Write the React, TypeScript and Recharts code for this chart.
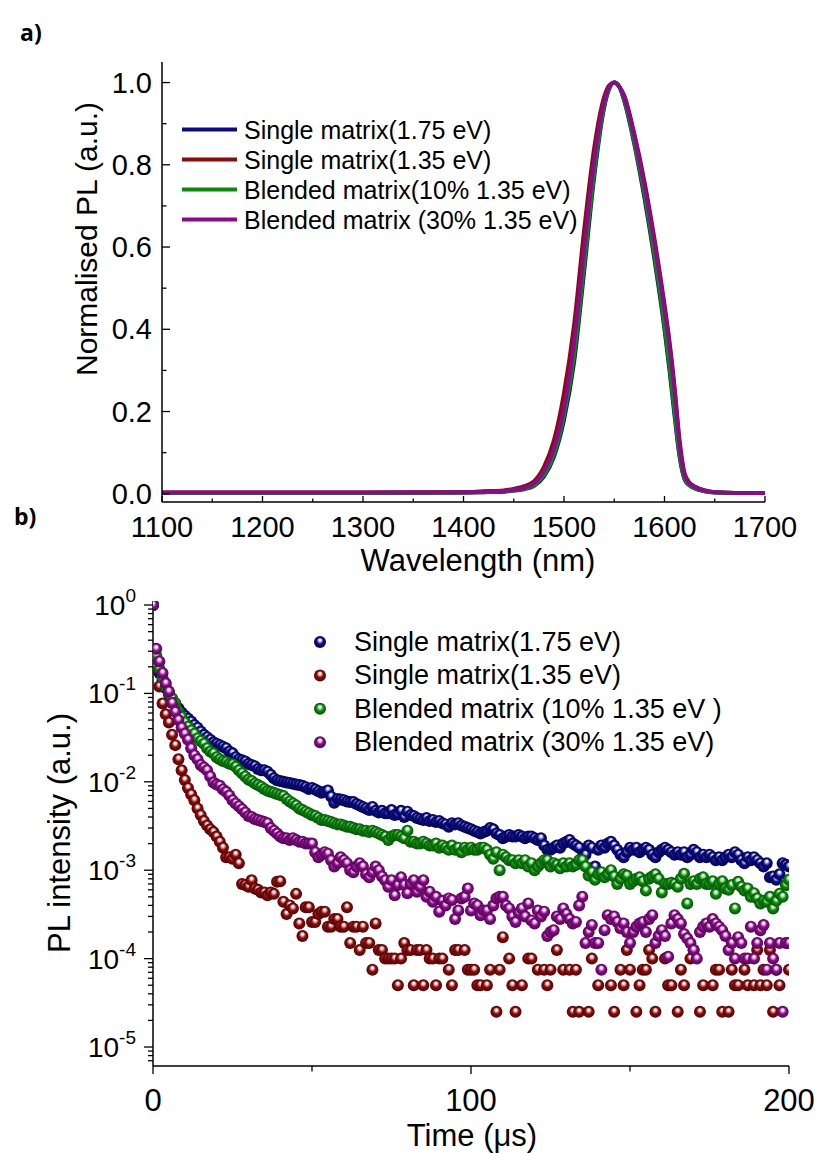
import { LineChart, Line, ScatterChart, Scatter, XAxis, YAxis } from 'recharts';

// ---- panel a: normalised PL spectra ----
const WAVELENGTHS = [
  1100, 1200, 1300, 1400, 1420, 1440, 1450, 1460, 1470, 1480, 1490, 1500, 1510, 1520, 1530, 1540, 1545,
  1550, 1555, 1560, 1570, 1580, 1590, 1600, 1605, 1610, 1615, 1620, 1625, 1630, 1640, 1650, 1670, 1700,
];
const PL_SINGLE_175 = [
  0.002, 0.002, 0.002, 0.003, 0.004, 0.005, 0.008, 0.011, 0.019, 0.042, 0.09, 0.18, 0.32, 0.54, 0.77, 0.94, 0.985,
  1.0, 0.99, 0.955, 0.85, 0.72, 0.57, 0.4, 0.3, 0.19, 0.09, 0.035, 0.02, 0.013, 0.006, 0.003, 0.002, 0.002,
];
const PL_SINGLE_135 = [
  0.003, 0.003, 0.003, 0.004, 0.006, 0.008, 0.012, 0.018, 0.03, 0.065, 0.13, 0.245, 0.41, 0.64, 0.84, 0.965, 0.993,
  1.0, 0.99, 0.968, 0.875, 0.76, 0.62, 0.46, 0.37, 0.26, 0.13, 0.05, 0.027, 0.018, 0.008, 0.004, 0.002, 0.002,
];
const PL_BLEND_10 = [
  0.002, 0.002, 0.002, 0.003, 0.004, 0.006, 0.008, 0.012, 0.02, 0.045, 0.095, 0.19, 0.335, 0.555, 0.78, 0.945, 0.987,
  1.0, 0.99, 0.958, 0.855, 0.73, 0.58, 0.41, 0.31, 0.2, 0.095, 0.037, 0.021, 0.014, 0.006, 0.003, 0.002, 0.002,
];
const PL_BLEND_30 = [
  0.003, 0.003, 0.003, 0.004, 0.005, 0.007, 0.01, 0.014, 0.025, 0.055, 0.11, 0.21, 0.37, 0.595, 0.81, 0.955, 0.99,
  1.0, 0.99, 0.965, 0.87, 0.75, 0.61, 0.45, 0.36, 0.25, 0.12, 0.045, 0.025, 0.017, 0.008, 0.004, 0.002, 0.002,
];
const WL_TICKS = [1100, 1150, 1200, 1250, 1300, 1350, 1400, 1450, 1500, 1550, 1600, 1650, 1700];
const PL_TICKS = [0, 0.1, 0.2, 0.3, 0.4, 0.5, 0.6, 0.7, 0.8, 0.9, 1.0];

// ---- panel b: PL decays, one sample per microsecond (null = no counts) ----
const TIME_STEP_US = 1;
const DECAY_SINGLE_175 = [
  1, 0.24, 0.17, 0.14, 0.115, 0.098, 0.085, 0.075, 0.068, 0.061,
  0.056, 0.052, 0.048, 0.044, 0.041, 0.037, 0.034, 0.032, 0.03, 0.028,
  0.027, 0.026, 0.025, 0.024, 0.022, 0.021, 0.019, 0.018, 0.0175, 0.017,
  0.016, 0.0155, 0.015, 0.014, 0.0135, 0.0135, 0.013, 0.012, 0.011, 0.0104,
  0.0102, 0.01, 0.0098, 0.0097, 0.0095, 0.0093, 0.0092, 0.009, 0.0087, 0.0083,
  0.0085, 0.0082, 0.0078, 0.0075, 0.0077, 0.008, 0.0068, 0.0058, 0.0064, 0.0063,
  0.0062, 0.006, 0.0059, 0.0059, 0.0056, 0.0054, 0.0052, 0.005, 0.0048, 0.0052,
  0.0047, 0.0045, 0.0047, 0.0044, 0.0044, 0.0048, 0.0042, 0.0043, 0.0047, 0.004,
  0.0046, 0.0042, 0.0041, 0.0039, 0.0038, 0.0037, 0.0039, 0.0036, 0.0037, 0.0035,
  0.0036, 0.0034, 0.0033, 0.0031, 0.0034, 0.0033, 0.0034, 0.0032, 0.0031, 0.003,
  0.0029, 0.0028, 0.0027, 0.0026, 0.0027, 0.0028, 0.003, 0.0029, 0.0026, 0.0025,
  0.0023, 0.0024, 0.0025, 0.0024, 0.0024, 0.0025, 0.0024, 0.0023, 0.0024, 0.0024,
  0.0023, 0.0022, 0.0023, 0.0019, 0.0017, 0.0017, 0.0018, 0.0019, 0.0018, 0.002,
  0.0021, 0.0022, 0.002, 0.0019, 0.0018, 0.0014, 0.0015, 0.0019, 0.0018, 0.0011,
  0.0017, 0.0019, 0.0018, 0.002, 0.0021, 0.0019, 0.0017, 0.0015, 0.0014, 0.0016,
  0.0018, 0.0017, 0.0018, 0.0016, 0.0017, 0.0018, 0.0017, 0.0015, 0.0014, 0.0016,
  0.0017, 0.0018, 0.0017, 0.0016, 0.0015, 0.0016, 0.0015, 0.0016, 0.0014, 0.0015,
  0.0017, 0.0016, 0.0014, 0.0015, 0.0014, 0.0015, 0.0014, 0.0013, 0.0014, 0.0013,
  0.0014, 0.0015, 0.0014, 0.0016, 0.0015, 0.0013, 0.0012, 0.0014, 0.0013, 0.0014,
  0.0013, 0.0012, 0.0011, 0.0012, 0.00083, 0.00085, 0.00078, 0.0009, 0.0012, 0.00115,
  0.0011,
];
const DECAY_SINGLE_135 = [
  1, 0.2, 0.12, 0.077, 0.058, 0.047, 0.034, 0.026, 0.018, 0.0135,
  0.0105, 0.0085, 0.0072, 0.0062, 0.005, 0.0042, 0.0036, 0.0032, 0.0029, 0.0027,
  0.0024, 0.0021, 0.0018, 0.0014, 0.0014, 0.00135, 0.0015, 0.0012, 0.0007, 0.00068,
  0.00065, 0.00077, 0.00062, 0.0006, 0.00056, 0.00056, 0.00052, 0.00056, 0.00054, 0.00074,
  0.00075, 0.00044, 0.00032, 0.0004, 0.00037, 0.00054, 0.00025, 0.00018, 0.00038, 0.00038,
  0.00026, 0.00026, 0.00032, 0.00034, 0.00034, 0.00023, 0.00023, 0.00028, 0.00028, 0.00023,
  0.00023, 0.00038, 0.00015, 0.00023, 0.00023, 0.000125, 0.00023, 0.00015, 0.00015, 0.000075,
  0.00025, 0.000125, 0.000125, 0.0001, 0.0001, 0.0001, 0.0001, 0.00005, 0.0001, 0.00015,
  0.000125, 0.000125, 0.00005, 0.000125, 0.000125, 0.00005, 0.000125, 0.0001, 0.0001, 0.00005,
  0.0001, 0.0001, null, 0.000075, 0.00005, 0.000125, 0.000125, null, 0.000125, 0.000075,
  0.000075, 0.000075, 0.00005, 0.00005, null, 0.00005, 0.000075, null, 0.000025, 0.000075,
  0.000175, null, 0.0001, 0.00005, 0.000025, null, 0.00005, null, 0.0001, 0.0001,
  null, 0.000075, null, 0.000075, 0.00005, 0.000075, null, 0.000125, null, 0.000075,
  null, 0.000075, 0.000025, 0.000075, 0.000025, null, null, 0.000025, 0.0001, null,
  0.00005, null, null, null, 0.00005, 0.000025, null, 0.000075, 0.00005, 0.000125,
  0.000075, null, 0.000025, 0.00005, 0.000075, 0.000075, 0.000125, 0.0001, 0.000025, null,
  null, 0.0001, 0.00005, 0.00005, null, 0.000025, 0.000075, 0.00005, null, 0.0001,
  0.000125, null, 0.000025, 0.00005, null, null, 0.00005, 0.000075, 0.000075, 0.000025,
  null, 0.000025, 0.000075, 0.00005, 0.00005, null, 0.000075, 0.00005, null, 0.00005,
  0.000125, 0.00005, 0.000075, 0.00005, 0.000125, 0.000025, 0.000075, 0.00005, null, null,
  0.000075,
];
const DECAY_BLEND_10 = [
  1, 0.27, 0.19, 0.15, 0.12, 0.1, 0.088, 0.078, 0.062, 0.054,
  0.047, 0.042, 0.038, 0.035, 0.031, 0.029, 0.027, 0.024, 0.022, 0.021,
  0.019, 0.018, 0.0172, 0.0168, 0.016, 0.0158, 0.0148, 0.0135, 0.0125, 0.0115,
  0.0106, 0.0102, 0.0096, 0.0092, 0.0088, 0.0083, 0.0079, 0.0077, 0.0075, 0.0073,
  0.0071, 0.0069, 0.0064, 0.006, 0.0057, 0.0054, 0.005, 0.0048, 0.0046, 0.0044,
  0.0042, 0.0041, 0.0039, 0.0037, 0.0037, 0.0036, 0.0035, 0.0034, 0.0033, 0.0033,
  0.0032, 0.0031, 0.0031, 0.003, 0.0029, 0.0029, 0.0028, 0.0028, 0.0027, 0.0028,
  0.0027, 0.0026, 0.0025, 0.0024, 0.0022, 0.0024, 0.0025, 0.0025, 0.0024, 0.0023,
  0.0028, 0.0021, 0.0021, 0.002, 0.002, 0.0021, 0.002, 0.0019, 0.0019, 0.002,
  0.0018, 0.0019, 0.0018, 0.0017, 0.0019, 0.0017, 0.0018, 0.0016, 0.0018, 0.0017,
  0.0018, 0.0017, 0.0017, 0.0018, 0.0018, 0.0017, 0.0015, 0.00135, 0.0016, 0.001,
  0.0015, 0.0014, 0.0013, 0.0013, 0.0012, 0.0013, 0.0012, 0.0013, 0.0011, 0.0012,
  0.001, 0.0011, 0.0012, 0.0013, 0.0013, 0.0011, 0.0012, 0.00115, 0.00105, 0.0012,
  0.0011, 0.0012, 0.0011, 0.00115, 0.0013, 0.0013, 0.0011, 0.00087, 0.00095, 0.00078,
  0.0009, 0.00095, 0.00083, 0.0009, 0.001, 0.00085, 0.0007, 0.0008, 0.0009, 0.00087,
  0.0007, 0.00075, 0.0008, 0.00083, 0.00075, 0.00059, 0.0008, 0.00085, 0.0009, 0.0008,
  0.00056, 0.0007, 0.0007, 0.00072, 0.0007, 0.00065, 0.0008, 0.00091, 0.00042, 0.0007,
  0.00075, 0.0007, 0.0008, 0.00083, 0.0007, 0.0007, 0.00075, 0.00054, 0.0007, 0.00075,
  0.00062, 0.0006, 0.00068, 0.00037, 0.00074, 0.00065, 0.00059, 0.00062, 0.0005, 0.00055,
  0.00048, 0.00042, 0.00045, 0.00044, 0.0005, 0.00037, 0.00045, 0.00054, 0.0005, 0.00068,
  0.00078,
];
const DECAY_BLEND_30 = [
  1, 0.32, 0.23, 0.17, 0.13, 0.105, 0.078, 0.062, 0.05, 0.041,
  0.035, 0.03, 0.024, 0.02, 0.018, 0.0155, 0.0145, 0.0135, 0.0115, 0.0098,
  0.0093, 0.009, 0.0082, 0.0077, 0.007, 0.0062, 0.0057, 0.0053, 0.0049, 0.0045,
  0.0041, 0.004, 0.0038, 0.0037, 0.0036, 0.0035, 0.0034, 0.003, 0.0028, 0.0026,
  0.0024, 0.0023, 0.0023, 0.0022, 0.0023, 0.0022, 0.0021, 0.0021, 0.002, 0.002,
  0.002, 0.0016, 0.0014, 0.0015, 0.0016, 0.00154, 0.0013, 0.0011, 0.0012, 0.0014,
  0.0013, 0.0012, 0.001, 0.00095, 0.0011, 0.0012, 0.0011, 0.0009, 0.00083, 0.00095,
  0.0011, 0.001, 0.00085, 0.00077, 0.00065, 0.00077, 0.00052, 0.00068, 0.00083, 0.00068,
  0.00055, 0.0007, 0.00077, 0.00057, 0.00065, 0.00077, 0.0005, 0.00057, 0.00044, 0.0005,
  0.00034, 0.00045, 0.0004, 0.00048, 0.00046, 0.00028, 0.00035, 0.00048, 0.0005, 0.00062,
  0.00035, 0.00042, 0.0004, 0.00031, 0.00035, 0.00035, 0.00028, 0.0004, 0.00048, 0.0005,
  0.0005, 0.0004, 0.00037, 0.0003, 0.00026, 0.00033, 0.00037, 0.0003, 0.00042, 0.00027,
  0.00025, 0.00035, 0.0003, 0.00034, 0.00018, 0.0002, 0.00021, 0.0003, 0.00028, 0.00037,
  0.00032, 0.00028, 0.00025, 0.00026, 0.0004, 0.0005, 0.00015, 0.0002, 0.00024, 0.00015,
  0.00015, 0.000075, 0.00021, 0.00031, 0.00028, 0.0003, 0.00026, 0.00022, 0.00025, 0.0002,
  0.00015, 0.0002, 0.00023, 0.00025, 0.00026, 0.0002, 0.00028, 0.00031, 0.00015, 0.00018,
  0.00021, 0.00018, 0.000105, 0.00025, 0.00031, 0.00028, 0.00025, 0.00019, 0.00017, 0.00015,
  0.000125, 0.0001, 0.0002, 0.00023, 0.00025, 0.00023, 0.00028, 0.00025, 0.00023, 0.00021,
  0.00018, 0.000125, 0.00015, 0.0001, 0.000175, 0.00015, 0.0001, 0.0001, 0.00023, 0.0001,
  0.00015, 0.00021, 0.00024, 0.000075, 0.00015, 0.0001, 0.000075, 0.00015, 0.000025, 0.00015,
  0.00015,
];
const TIME_TICKS = [0, 50, 100, 150, 200];
const DECADES = [1e-5, 1e-4, 1e-3, 1e-2, 1e-1, 1];
const MINOR_STEPS = [2, 3, 4, 5, 6, 7, 8, 9];

const NAMES_A = [
  'Single matrix(1.75 eV)',
  'Single matrix(1.35 eV)',
  'Blended matrix(10% 1.35 eV)',
  'Blended matrix (30% 1.35 eV)',
];
const NAMES_B = [
  'Single matrix(1.75 eV)',
  'Single matrix(1.35 eV)',
  'Blended matrix (10% 1.35 eV )',
  'Blended matrix (30% 1.35 eV)',
];
const COLORS = ['#0b0b8a', '#8b0a0a', '#0a8a0a', '#8a0a8a'];
const BALL_LIGHT = ['#9a9ad8', '#dca0a0', '#a0dca0', '#dca0dc'];
const BALL_DARK = ['#04044f', '#520404', '#045404', '#520452'];
const BALL_IDS = ['ballBlue', 'ballRed', 'ballGreen', 'ballPurple'];

const FONT = "'Liberation Sans', Arial, sans-serif";

const spectra = WAVELENGTHS.map((wl, i) => ({
  wl,
  s175: PL_SINGLE_175[i],
  s135: PL_SINGLE_135[i],
  b10: PL_BLEND_10[i],
  b30: PL_BLEND_30[i],
}));

const decaySets = [DECAY_SINGLE_175, DECAY_SINGLE_135, DECAY_BLEND_10, DECAY_BLEND_30].map((vals) =>
  vals.map((v, i) => ({ t: i * TIME_STEP_US, v })).filter((d) => d.v != null),
);

const logTicks: number[] = [];
DECADES.forEach((d) => {
  logTicks.push(d);
  if (d < 1) MINOR_STEPS.forEach((m) => logTicks.push(m * d));
});
[7e-6, 8e-6, 9e-6].forEach((v) => logTicks.unshift(v));

const BALL_R = 6;

// shaded ball for the scatter marks
const ballShape = (id: string) => (p: any) =>
  p.cx == null ? <g /> : <circle cx={p.cx} cy={p.cy} r={BALL_R} fill={`url(#${id})`} />;

const WlTick = ({ x, y, payload }: any) => {
  const v = payload.value;
  const major = v % 100 === 0;
  return (
    <g>
      <line x1={x} x2={x} y1={y} y2={y - (major ? 6 : 3.5)} stroke="#000" strokeWidth={1.3} />
      {major && (
        <text x={x} y={y + 25} textAnchor="middle" dominantBaseline="central" fontFamily={FONT} fontSize={29} fill="#000">
          {v}
        </text>
      )}
    </g>
  );
};

const PlTick = ({ x, y, payload }: any) => {
  const v = payload.value;
  const major = Math.round(v * 10) % 2 === 0;
  return (
    <g>
      <line x1={x} x2={x + (major ? 8 : 4.5)} y1={y} y2={y} stroke="#000" strokeWidth={1.3} />
      {major && (
        <text x={x - 10} y={y} textAnchor="end" dominantBaseline="central" fontFamily={FONT} fontSize={29} fill="#000">
          {v.toFixed(1)}
        </text>
      )}
    </g>
  );
};

const TimeTick = ({ x, y, payload }: any) => {
  const v = payload.value;
  const major = v % 100 === 0;
  return (
    <g>
      <line x1={x} x2={x} y1={y} y2={y + (major ? 8 : 5.5)} stroke="#000" strokeWidth={1.3} />
      {major && (
        <text x={x} y={y + 34} textAnchor="middle" dominantBaseline="central" fontFamily={FONT} fontSize={31} fill="#000">
          {v}
        </text>
      )}
    </g>
  );
};

const LogTick = ({ x, y, payload }: any) => {
  const v = payload.value;
  const e = Math.log10(v);
  const major = Math.abs(e - Math.round(e)) < 1e-6;
  return (
    <g>
      <line x1={x - (major ? 9 : 5)} x2={x} y1={y} y2={y} stroke="#000" strokeWidth={1.3} />
      {major && (
        <text x={x - 17} y={y + 10} textAnchor="end" fontFamily={FONT} fontSize={28} fill="#000">
          10
          <tspan dy={-13} fontSize={19}>
            {Math.round(e)}
          </tspan>
        </text>
      )}
    </g>
  );
};

const AXIS = { stroke: '#000', strokeWidth: 1.5 };

export default function App() {
  return (
    <div style={{ position: 'absolute', left: 0, top: 0, width: 819, height: 1153, background: '#fff' }}>
      <svg width={0} height={0} style={{ position: 'absolute' }}>
        <defs>
          {COLORS.map((c, i) => (
            <radialGradient key={c} id={BALL_IDS[i]} cx="50%" cy="50%" r="50%" fx="50%" fy="30%">
              <stop offset="0%" stopColor="#ffffff" />
              <stop offset="14%" stopColor="#ffffff" stopOpacity={0.9} />
              <stop offset="30%" stopColor={BALL_LIGHT[i]} />
              <stop offset="55%" stopColor={c} />
              <stop offset="100%" stopColor={BALL_DARK[i]} />
            </radialGradient>
          ))}
        </defs>
      </svg>

      <div style={{ position: 'absolute', left: 0, top: 0 }}>
        <LineChart width={819} height={580} data={spectra} margin={{ top: 62, right: 54, bottom: 0, left: 0 }}>
          <XAxis
            dataKey="wl"
            type="number"
            domain={[1100, 1700]}
            ticks={WL_TICKS}
            interval={0}
            height={78}
            tickSize={0}
            tickMargin={0}
            tickLine={false}
            axisLine={AXIS}
            tick={<WlTick />}
          />
          <XAxis xAxisId="top" orientation="top" dataKey="wl" type="number" domain={[1100, 1700]} height={0} tick={false} tickLine={false} axisLine={AXIS} />
          <YAxis
            type="number"
            domain={[-0.02, 1.05]}
            ticks={PL_TICKS}
            interval={0}
            width={162}
            tickSize={0}
            tickMargin={0}
            tickLine={false}
            axisLine={AXIS}
            tick={<PlTick />}
          />
          <YAxis yAxisId="right" orientation="right" width={0} tick={false} tickLine={false} axisLine={AXIS} />
          <Line type="monotone" dataKey="s175" stroke={COLORS[0]} strokeWidth={4} dot={false} isAnimationActive={false} />
          <Line type="monotone" dataKey="s135" stroke={COLORS[1]} strokeWidth={4} dot={false} isAnimationActive={false} />
          <Line type="monotone" dataKey="b10" stroke={COLORS[2]} strokeWidth={4} dot={false} isAnimationActive={false} />
          <Line type="monotone" dataKey="b30" stroke={COLORS[3]} strokeWidth={4} dot={false} isAnimationActive={false} />
        </LineChart>
      </div>

      <div style={{ position: 'absolute', left: 0, top: 580 }}>
        <ScatterChart width={819} height={573} margin={{ top: 21, right: 30, bottom: 0, left: 0 }}>
          <XAxis
            dataKey="t"
            type="number"
            domain={[0, 200]}
            ticks={TIME_TICKS}
            interval={0}
            allowDataOverflow
            height={87}
            tickSize={0}
            tickMargin={0}
            tickLine={false}
            axisLine={AXIS}
            tick={<TimeTick />}
          />
          <XAxis xAxisId="top" orientation="top" type="number" domain={[0, 200]} height={0} tick={false} tickLine={false} axisLine={AXIS} />
          <YAxis
            dataKey="v"
            type="number"
            scale="log"
            domain={[6.1e-6, 1.11]}
            allowDataOverflow
            ticks={logTicks}
            interval={0}
            width={153}
            tickSize={0}
            tickMargin={0}
            tickLine={false}
            axisLine={AXIS}
            tick={<LogTick />}
          />
          <YAxis yAxisId="right" orientation="right" width={0} tick={false} tickLine={false} axisLine={AXIS} />
          {decaySets.map((d, i) => (
            <Scatter key={i} data={d} fill={COLORS[i]} shape={ballShape(BALL_IDS[i])} isAnimationActive={false} />
          ))}
        </ScatterChart>
      </div>

      <svg width={819} height={1153} style={{ position: 'absolute', left: 0, top: 0, pointerEvents: 'none' }}>
        <text x={20} y={41} fontFamily="'Open Sans', sans-serif" fontWeight={700} fontSize={23} fill="#000">a)</text>
        <text x={14} y={525} fontFamily="'Open Sans', sans-serif" fontWeight={700} fontSize={23} fill="#000">b)</text>

        <text transform="translate(86,239) rotate(-90)" textAnchor="middle" dominantBaseline="central" fontFamily={FONT} fontSize={30} fill="#000">
          Normalised PL (a.u.)
        </text>
        <text x={478} y={560} textAnchor="middle" dominantBaseline="central" fontFamily={FONT} fontSize={31} fill="#000">
          Wavelength (nm)
        </text>
        <text transform="translate(59,833) rotate(-90)" textAnchor="middle" dominantBaseline="central" fontFamily={FONT} fontSize={31} fill="#000">
          PL intensity (a.u.)
        </text>
        <text x={472} y={1135} textAnchor="middle" dominantBaseline="central" fontFamily={FONT} fontSize={31} fill="#000">
          Time (μs)
        </text>

        {NAMES_A.map((n, i) => (
          <g key={n}>
            <line x1={182} x2={237} y1={129.5 + i * 30} y2={129.5 + i * 30} stroke={COLORS[i]} strokeWidth={4} />
            <text x={244} y={129.5 + i * 30} dominantBaseline="central" fontFamily={FONT} fontSize={25} fill="#000">
              {n}
            </text>
          </g>
        ))}

        {NAMES_B.map((n, i) => (
          <g key={n}>
            <circle cx={320} cy={642 + i * 33.4} r={BALL_R} fill={`url(#${BALL_IDS[i]})`} />
            <text x={354} y={642 + i * 33.4} dominantBaseline="central" fontFamily={FONT} fontSize={27} fill="#000">
              {n}
            </text>
          </g>
        ))}
      </svg>
    </div>
  );
}
